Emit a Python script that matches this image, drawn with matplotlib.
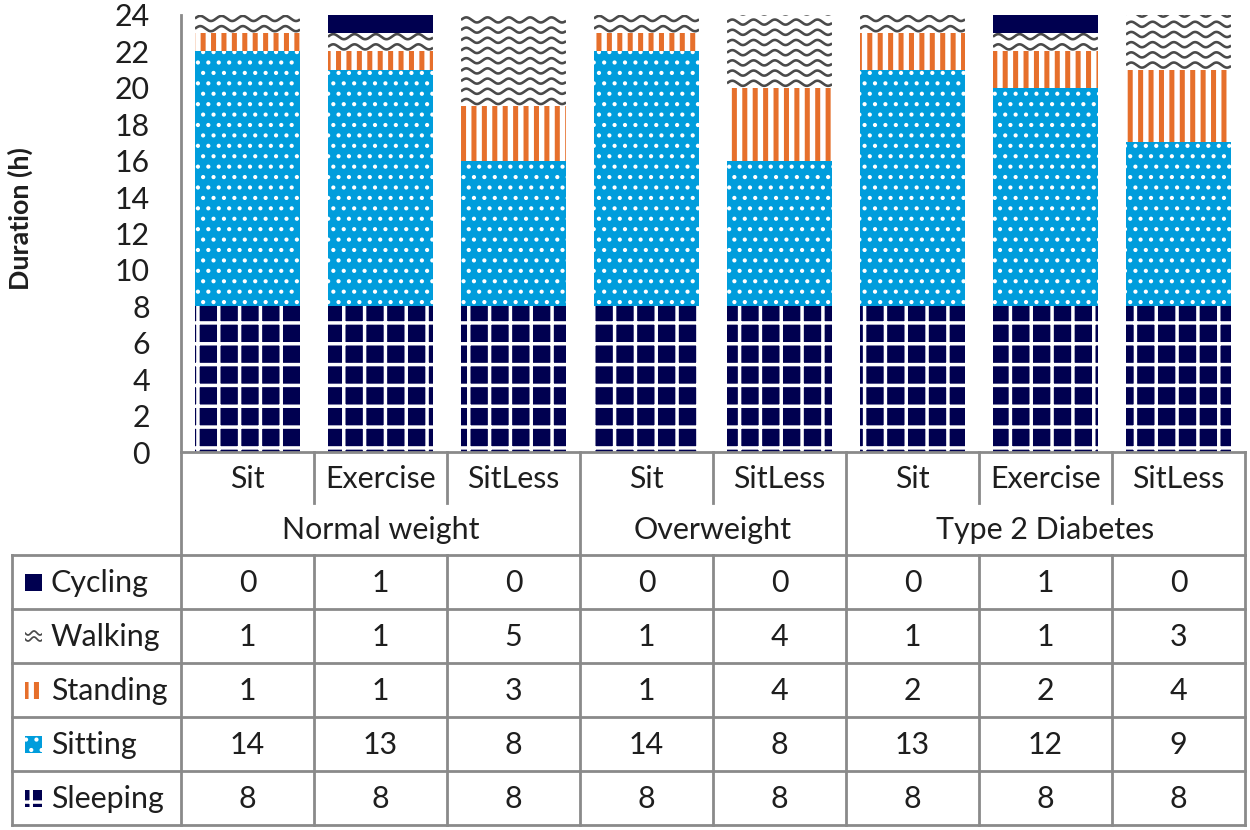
import numpy as np
import matplotlib.pyplot as plt
from matplotlib.patches import Rectangle

# data
groups = ['Normal weight', 'Overweight', 'Type 2 Diabetes']
group_sizes = [3, 2, 3]
conditions = ['Sit', 'Exercise', 'SitLess', 'Sit', 'SitLess', 'Sit', 'Exercise', 'SitLess']

activities = ['Cycling', 'Walking', 'Standing', 'Sitting', 'Sleeping']
cycling = [0, 1, 0, 0, 0, 0, 1, 0]
walking = [1, 1, 5, 1, 4, 1, 1, 3]
standing = [1, 1, 3, 1, 4, 2, 2, 4]
sitting = [14, 13, 8, 14, 8, 13, 12, 9]
sleeping = [8, 8, 8, 8, 8, 8, 8, 8]
values = {'Cycling': cycling, 'Walking': walking, 'Standing': standing,
          'Sitting': sitting, 'Sleeping': sleeping}

navy = '#000050'
blue = '#009ddc'
orange = '#e66f2b'
wave_col = '#4a4a4a'
grid_col = '#8a8a8a'
txt_col = '#1e1e1e'
fs = 17.5

# face, hatch, hatch colour, hatch linewidth
styles = {
    'Sleeping': (navy, '+', 'white', 2.0),
    'Sitting': (blue, '..', 'white', 1.2),
    'Standing': ('white', '||', orange, 2.9),
    'Walking': ('white', None, 'white', 1.0),
    'Cycling': (navy, None, navy, 1.0),
}

plt.rcParams['font.family'] = ['Lato', 'DejaVu Sans']
W, H = 1250, 830
fig = plt.figure(figsize=(10, 6.64), dpi=125)

# table axes in pixel coordinates
tax = fig.add_axes([0, 0, 1, 1])
tax.set_xlim(0, W)
tax.set_ylim(H, 0)
tax.axis('off')

ax_left, ax_right, ax_top, ax_bot = 181, 1245, 15, 452
ax = fig.add_axes([ax_left / W, (H - ax_bot) / H, (ax_right - ax_left) / W, (ax_bot - ax_top) / H])
ax.patch.set_visible(False)

x = np.arange(len(conditions))
bw = 0.79


def add_waves(patch):
    bx, by = patch.get_x(), patch.get_y()
    pw, ph = patch.get_width(), patch.get_height()
    if ph <= 0:
        return
    xs = np.linspace(bx, bx + pw, 300)
    dy = 0.56
    y0 = by + 0.25
    while y0 < by + ph + dy:
        ys = y0 + 0.14 * np.sin(2 * np.pi * (xs - bx) / 0.16)
        ln, = ax.plot(xs, ys, color=wave_col, lw=1.5, solid_capstyle='butt')
        ln.set_clip_path(patch)
        y0 += dy


bottom = np.zeros(len(conditions))
for act in ['Sleeping', 'Sitting', 'Standing', 'Walking', 'Cycling']:
    face, hatch, hcol, hlw = styles[act]
    plt.rcParams['hatch.linewidth'] = hlw
    vals = np.array(values[act], dtype=float)
    bars = ax.bar(x, vals, bw, bottom=bottom, facecolor=face, edgecolor=hcol,
                  linewidth=0, hatch=hatch, zorder=2)
    for b in bars:
        if hasattr(b, 'set_hatch_linewidth'):
            b.set_hatch_linewidth(hlw)
        if act == 'Walking':
            add_waves(b)
    bottom += vals

ax.set_xlim(-0.5, len(conditions) - 0.5)
ax.set_ylim(0, 24)
ax.set_yticks(np.arange(0, 25, 2))
ax.tick_params(axis='y', length=0, pad=18, labelsize=fs, labelcolor=txt_col)
ax.set_xticks([])
for s in ['top', 'right']:
    ax.spines[s].set_visible(False)
for s in ['left', 'bottom']:
    ax.spines[s].set_color(grid_col)
    ax.spines[s].set_linewidth(1.6)

fig.text(20 / W, 1 - 219 / H, 'Duration (h)', rotation=90, ha='center', va='center',
         fontsize=15.5, fontweight='bold', color=txt_col)

# table
col_w = (ax_right - ax_left) / len(conditions)
col_x = [ax_left + col_w * i for i in range(len(conditions) + 1)]
cat_bot, grp_bot = 503, 555
row_h = 54
tab_left = 12
lk = dict(color=grid_col, lw=1.6, solid_capstyle='projecting')

# header rows
tax.plot([ax_left, ax_left], [ax_bot, grp_bot], **lk)
tax.plot([ax_right, ax_right], [ax_bot, grp_bot], **lk)
start = 0
for g, n in zip(groups, group_sizes):
    for i in range(start + 1, start + n):
        tax.plot([col_x[i], col_x[i]], [ax_bot, cat_bot], **lk)
    if start > 0:
        tax.plot([col_x[start], col_x[start]], [ax_bot, grp_bot], **lk)
    tax.text((col_x[start] + col_x[start + n]) / 2, (cat_bot + grp_bot) / 2 + 1, g,
             ha='center', va='center', fontsize=fs, color=txt_col)
    start += n
for i, c in enumerate(conditions):
    tax.text((col_x[i] + col_x[i + 1]) / 2, (ax_bot + cat_bot) / 2 + 1, c,
             ha='center', va='center', fontsize=fs, color=txt_col)

# data rows
n_rows = len(activities)
for k in range(n_rows + 1):
    yk = grp_bot + row_h * k
    tax.plot([tab_left, ax_right], [yk, yk], **lk)
for xc in [tab_left] + col_x:
    tax.plot([xc, xc], [grp_bot, grp_bot + row_h * n_rows], **lk)

for k, act in enumerate(activities):
    yc = grp_bot + row_h * (k + 0.5)
    face, hatch, hcol, hlw = styles[act]
    plt.rcParams['hatch.linewidth'] = hlw
    key = Rectangle((25, yc - 8), 17, 17, facecolor=face, edgecolor=hcol, linewidth=0, hatch=hatch)
    if hasattr(key, 'set_hatch_linewidth'):
        key.set_hatch_linewidth(hlw)
    tax.add_patch(key)
    if act == 'Walking':
        xs = np.linspace(25, 42, 60)
        for yy in (yc - 3, yc + 3):
            ln, = tax.plot(xs, yy + 2 * np.sin(2 * np.pi * (xs - 25) / 12), color=wave_col, lw=1.0)
            ln.set_clip_path(key)
    tax.text(51, yc + 1, act, ha='left', va='center', fontsize=fs, color=txt_col)
    for i, v in enumerate(values[act]):
        tax.text((col_x[i] + col_x[i + 1]) / 2, yc + 1, str(v),
                 ha='center', va='center', fontsize=fs, color=txt_col)

fig.savefig('out.png', dpi=125)
